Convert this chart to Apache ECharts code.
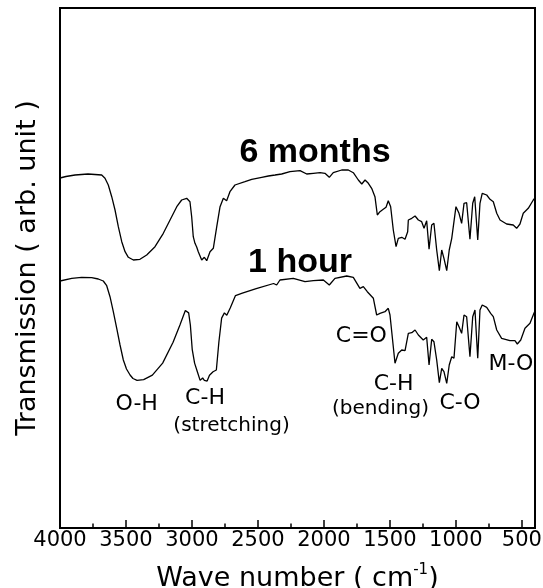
<!DOCTYPE html>
<html>
<head>
<meta charset="utf-8">
<script src="https://cdn.jsdelivr.net/npm/echarts@6/dist/echarts.min.js"></script>
<style>
html,body{margin:0;padding:0;background:#fff;}
#chart{width:543px;height:588px;}
</style>
</head>
<body>
<div id="chart"></div>
<script>
// ---- data (wavenumber in cm^-1, transmission in arbitrary units) ----
const wn6m = [4000,3955,3886,3788,3735,3684,3659,3634,3608,3583,3558,3532,3507,3482,3444,3394,3343,3280,3217,3166,3115,3078,3040,3015,3002,2990,2977,2964,2952,2926,2906,2888,2863,2838,2812,2787,2762,2737,2712,2674,2598,2547,2471,2421,2370,2358,2320,2257,2181,2130,2080,2029,1992,1959,1929,1865,1815,1777,1739,1713,1688,1663,1638,1613,1595,1575,1550,1529,1512,1494,1474,1453,1436,1410,1385,1365,1360,1334,1309,1284,1259,1241,1221,1203,1183,1166,1145,1125,1107,1090,1069,1050,1031,1019,999,976,956,938,918,893,872,857,834,817,800,766,741,716,690,665,615,565,539,514,489,451,413,400];
const t6m = [350,351.5,353,354,353.5,353,349.7,343,331.3,318,301.3,286.3,276.3,270.7,268,268.7,273,281.3,294.7,308,321.3,328,329.7,326.3,311.3,291.3,284.7,281,276.3,268,270.7,267.3,276.3,279.7,301.3,321.3,329.7,327.3,336.3,343,346.3,348.7,350.7,352,353,351.3,354,356.3,357.3,354,354.7,355.3,354.7,350.7,355.3,358,358,355.3,348,344,348,344.7,339.7,331.3,313,316.3,318.7,320.7,327.3,321.3,298,281.3,289.7,290.7,288.7,296.3,308,309.7,312,308,306.3,299.7,307.3,278.7,303,304.7,278,257.3,278,269.7,257.3,278,289.7,288,321.3,314.7,304.7,324.7,325.3,288.7,324.7,331.3,288,324.7,334.7,333,328.7,326.3,314.7,308,304,303,299.7,304,314.7,319.7,328,330];

const wn1h = [4000,3911,3836,3760,3710,3672,3646,3621,3596,3570,3545,3520,3496,3469,3447,3416,3366,3300,3222,3143,3091,3050,3025,3012,2998,2980,2959,2938,2919,2906,2885,2867,2840,2815,2796,2775,2754,2736,2709,2670,2618,2513,2381,2358,2333,2232,2143,2080,2004,1959,1916,1827,1777,1727,1701,1671,1625,1600,1575,1537,1512,1499,1474,1461,1436,1410,1385,1360,1334,1309,1284,1247,1221,1203,1183,1166,1145,1125,1107,1090,1069,1050,1031,1014,993,976,956,938,918,893,872,855,834,817,800,766,736,716,690,653,590,552,534,508,476,438,408,400];
const t1h = [247,249.7,250.7,250.3,249,247,242.3,231.3,216.3,199.7,183,168,159,153,149.5,147.6,148.3,152.8,164.9,185.7,203,217.5,215.1,203,178.7,164.9,156.2,147.6,150,147.6,146.9,152.8,156.2,158,185.7,209.9,215.1,212.7,220.3,232.4,234.8,239.3,244.5,243,248,249.7,246.3,247.3,248,243,249.7,252,250.7,239.7,241.3,236.3,229.7,213,214.7,216.3,219.7,213,181.3,164.7,174.7,178,177.3,194.7,195.3,198,193,188,190.7,163,188.7,186.3,168,145.3,159.7,156.3,144.7,163,171.3,169.7,206.3,201.3,194.7,213,211.3,171.3,211.3,218,169.7,218,223,220.7,214.7,211.3,198,189.7,187.3,187.3,184,188,199.7,204.7,214.7,217];

const tickLabels = [4000,3500,3000,2500,2000,1500,1000,500];
const minorTicks = [3750,3250,2750,2250,1750,1250,750];

const seriesNames = ['6 months','1 hour'];
const nameWn = [2067,2181];
const nameT = [375,265];

const annoLabels = ['O-H','C-H','(stretching)','C=O','C-H','(bending)','C-O','M-O'];
const annoWn = [3419,2901,2700,1716,1472,1571,968,582];
const annoT = [123.5,130,102,192,144,119,125,164];

// ---- build ----
const zip = (a,b) => a.map((x,i) => [x,b[i]]);
const FONT = 'DejaVu Sans';

const chart = echarts.init(document.getElementById('chart'), null, {renderer:'canvas'});

const lineStyle = {color:'#000', width:1.3};

const option = {
  backgroundColor:'#fff',
  animation:false,
  grid:{left:60, right:8, top:8, bottom:60, show:true, borderColor:'#000', borderWidth:2, containLabel:false, outerBoundsMode:'none'},
  xAxis:[{
    type:'value', min:400, max:4000, inverse:true,
    axisLine:{show:true, lineStyle:{color:'#000', width:2}},
    axisTick:{show:true, inside:true, length:8, customValues:tickLabels, lineStyle:{color:'#000', width:1.5}},
    axisLabel:{show:true, customValues:tickLabels, color:'#000', fontFamily:FONT, fontSize:21, margin:2, formatter:(v) => String(v), hideOverlap:false},
    splitLine:{show:false},
    name:'{a|Wave number ( cm}{sup|-1}{a|)}',
    nameLocation:'middle', nameGap:35,
    nameTextStyle:{color:'#000', rich:{
      a:{fontFamily:FONT, fontSize:27, color:'#000', lineHeight:31},
      sup:{fontFamily:FONT, fontSize:15, color:'#000', verticalAlign:'top', lineHeight:31}
    }}
  },{
    type:'value', min:400, max:4000, inverse:true, position:'bottom',
    axisLine:{show:false},
    axisTick:{show:true, inside:true, length:4.5, customValues:minorTicks, lineStyle:{color:'#000', width:1.5}},
    axisLabel:{show:false},
    splitLine:{show:false}
  }],
  yAxis:{
    type:'value', min:0, max:520,
    axisLine:{show:true, lineStyle:{color:'#000', width:2}},
    axisTick:{show:false}, axisLabel:{show:false}, splitLine:{show:false},
    name:'Transmission ( arb. unit )', nameLocation:'middle', nameRotate:90, nameGap:19,
    nameTextStyle:{color:'#000', fontFamily:FONT, fontSize:27}
  },
  series:[
    {type:'line', name:seriesNames[0], data:zip(wn6m,t6m), showSymbol:false, symbol:'none', lineStyle:lineStyle, z:3},
    {type:'line', name:seriesNames[1], data:zip(wn1h,t1h), showSymbol:false, symbol:'none', lineStyle:lineStyle, z:3},
    {type:'scatter', symbolSize:0, silent:true, z:4, itemStyle:{opacity:1},
      data:seriesNames.map((n,i) => ({value:[nameWn[i], nameT[i]], label:{show:true, formatter:n, position:'inside', align:'center', verticalAlign:'middle',
        fontFamily:'Liberation Sans', fontWeight:'bold', fontSize:34, color:'#000', opacity:1}}))},
    {type:'scatter', symbolSize:0, silent:true, z:4, itemStyle:{opacity:1},
      data:annoLabels.map((n,i) => ({value:[annoWn[i], annoT[i]], label:{show:true, formatter:n, position:'inside', align:'center', verticalAlign:'middle',
        fontFamily:FONT, fontSize:(n.charAt(0)==='(' ? 20 : 22), color:'#000', opacity:1}}))}
  ]
};
chart.setOption(option);
</script>
</body>
</html>
